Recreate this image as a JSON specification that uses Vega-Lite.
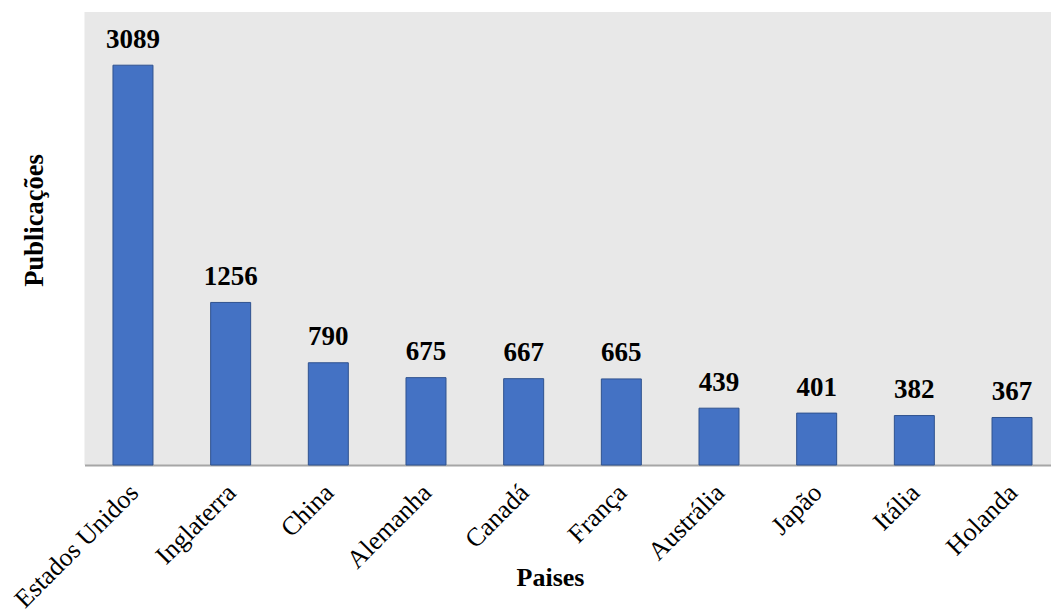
{
  "$schema": "https://vega.github.io/schema/vega-lite/v6.json",
  "autosize": "none",
  "width": 966.5,
  "height": 453,
  "padding": {"left": 84.5, "top": 12, "right": 0, "bottom": 149},
  "background": "white",
  "view": {"fill": "#e8e8e8", "stroke": null},
  "config": {"font": "Liberation Serif"},
  "data": {
    "values": [
      {"pais": "Estados Unidos", "publicacoes": 3089},
      {"pais": "Inglaterra", "publicacoes": 1256},
      {"pais": "China", "publicacoes": 790},
      {"pais": "Alemanha", "publicacoes": 675},
      {"pais": "Canadá", "publicacoes": 667},
      {"pais": "França", "publicacoes": 665},
      {"pais": "Austrália", "publicacoes": 439},
      {"pais": "Japão", "publicacoes": 401},
      {"pais": "Itália", "publicacoes": 382},
      {"pais": "Holanda", "publicacoes": 367}
    ]
  },
  "encoding": {
    "x": {
      "field": "pais",
      "type": "nominal",
      "sort": null,
      "scale": {"paddingInner": 0.5905, "paddingOuter": 0.243, "align": 0.6},
      "axis": {
        "title": "Paises",
        "titleFont": "Liberation Serif",
        "titleFontSize": 26,
        "titleFontWeight": "bold",
        "titleColor": "#000000",
        "titleX": 465.5,
        "titleY": 120,
        "titleBaseline": "alphabetic",
        "titleAlign": "center",
        "labelAngle": -45,
        "labelFont": "Liberation Serif",
        "labelFontSize": 26,
        "labelColor": "#000000",
        "labelPadding": 14,
        "labelOffset": -8,
        "labelOverlap": false,
        "labelLimit": 400,
        "ticks": false,
        "domainColor": "#a6a6a6",
        "domainWidth": 2,
        "grid": false
      }
    },
    "y": {
      "field": "publicacoes",
      "type": "quantitative",
      "scale": {"domain": [0, 3500]},
      "axis": {
        "title": "Publicações",
        "titleFont": "Liberation Serif",
        "titleFontSize": 26.5,
        "titleFontWeight": "bold",
        "titleColor": "#000000",
        "titleAngle": 270,
        "titleX": -42,
        "titleY": 208,
        "titleBaseline": "alphabetic",
        "titleAlign": "center",
        "labels": false,
        "ticks": false,
        "domain": false,
        "grid": false
      }
    }
  },
  "layer": [
    {
      "mark": {"type": "bar", "color": "#4472C4", "stroke": "#2F528F", "strokeWidth": 1}
    },
    {
      "mark": {
        "type": "text",
        "font": "Liberation Serif",
        "fontSize": 27,
        "fontWeight": "bold",
        "color": "#000000",
        "baseline": "alphabetic",
        "dy": -17.5
      },
      "encoding": {"text": {"field": "publicacoes", "type": "quantitative"}}
    }
  ]
}
